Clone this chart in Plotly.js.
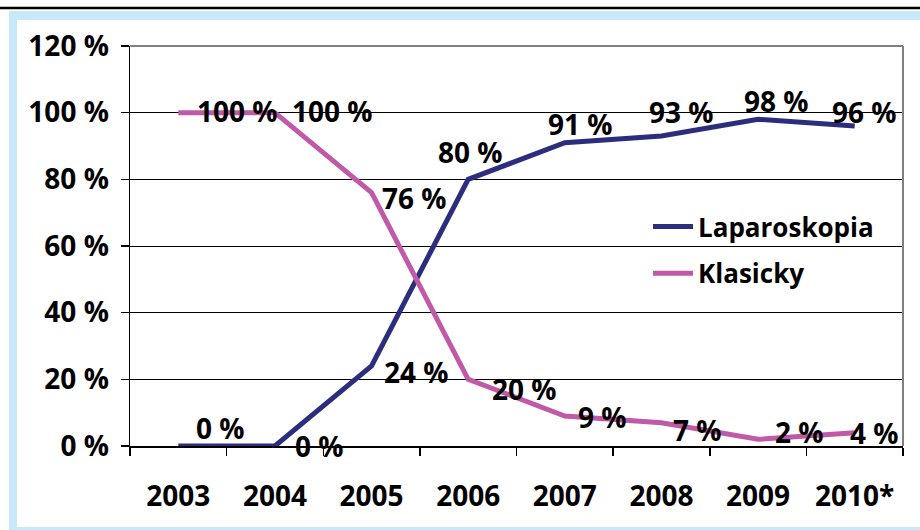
<!DOCTYPE html>
<html>
<head>
<meta charset="utf-8">
<script src="https://cdn.plot.ly/plotly-3.0.1.min.js"></script>
<style>html,body{margin:0;padding:0;background:#fff;}#chart{width:920px;height:530px;}</style>
</head>
<body>
<div id="chart"></div>
<script>
// ---- data ----
const years = ['2003', '2004', '2005', '2006', '2007', '2008', '2009', '2010*'];
const laparoskopia = [0, 0, 24, 80, 91, 93, 98, 96];
const klasicky = [100, 100, 76, 20, 9, 7, 2, 4];
const seriesNames = ['Laparoskopia', 'Klasicky'];
const yTicks = [0, 20, 40, 60, 80, 100, 120];

// ---- label offsets (pixels, styling only) ----
const lapShift = [[42, 18], [45, 0], [45, -6], [2, 27], [16, 19], [20, 24], [18, 18], [10, 14]];
const klaShift = [[59, 2], [58, 2], [43, -5], [56, -10], [38, -1], [36, -7], [41, 7], [20, 0]];

const FONT = 'Open Sans, Noto Sans, sans-serif';
const navy = '#2c2e7d';
const pink = '#c05aa8';
const lightBlue = '#c8e9f7';

// layout geometry in pixels
const L = 130, R = 17, T = 46, B = 84, W = 920, H = 530;
const pw = W - L - R, ph = H - T - B;
const fx = p => (p - L) / pw;
const fy = p => (H - B - p) / ph;

const traces = [
  {x: years, y: laparoskopia, name: seriesNames[0], type: 'scatter', mode: 'lines',
   line: {color: navy, width: 5}, legendgroup: 'a', cliponaxis: false, hoverinfo: 'skip'},
  {x: years, y: klasicky, name: seriesNames[1], type: 'scatter', mode: 'lines',
   line: {color: pink, width: 5}, legendgroup: 'b', cliponaxis: false, hoverinfo: 'skip'}
];

const annFont = {family: FONT, size: 28, color: '#000', weight: 'bold'};
const annotations = [];
[[laparoskopia, lapShift], [klasicky, klaShift]].forEach(([vals, sh]) => {
  vals.forEach((v, i) => {
    // category axis: annotation x is the category's serial index
    annotations.push({x: years.indexOf(years[i]), y: v, xref: 'x', yref: 'y', text: v + ' %',
      showarrow: false, xanchor: 'center', yanchor: 'middle',
      xshift: sh[i][0], yshift: sh[i][1], font: annFont});
  });
});

const shapes = [
  {type: 'rect', xref: 'paper', yref: 'paper', x0: fx(9), x1: fx(925), y0: fy(11), y1: fy(535),
   fillcolor: lightBlue, line: {width: 0}, layer: 'below'},
  {type: 'rect', xref: 'paper', yref: 'paper', x0: fx(17), x1: fx(925), y0: fy(20), y1: fy(527),
   fillcolor: '#ffffff', line: {width: 0}, layer: 'below'},
  {type: 'line', xref: 'paper', yref: 'paper', x0: fx(0), x1: fx(920), y0: fy(8), y1: fy(8),
   line: {color: '#000', width: 2.5}, layer: 'below'},
  {type: 'line', xref: 'paper', yref: 'paper', x0: 0, x1: 1, y0: 1, y1: 1,
   line: {color: '#808080', width: 2}, layer: 'above'},
  {type: 'line', xref: 'paper', yref: 'paper', x0: 1, x1: 1, y0: 0, y1: 1,
   line: {color: '#808080', width: 2}, layer: 'above'}
];

const tickFont = {family: FONT, size: 28, color: '#000', weight: 'bold'};

const layout = {
  width: W, height: H,
  margin: {l: L, r: R, t: T, b: B, pad: 0},
  paper_bgcolor: '#ffffff',
  plot_bgcolor: 'rgba(0,0,0,0)',
  showlegend: true,
  legend: {x: fx(648), y: fy(203), xanchor: 'left', yanchor: 'top',
    bgcolor: 'rgba(0,0,0,0)', borderwidth: 0, traceorder: 'grouped', tracegroupgap: 10,
    font: {family: FONT, size: 26, color: '#000', weight: 'bold'}, itemwidth: 40},
  xaxis: {type: 'category', categoryorder: 'array', categoryarray: years,
    range: [-0.5, years.length - 0.5], tickson: 'boundaries',
    showline: true, linecolor: '#000', linewidth: 1.5,
    ticks: 'outside', ticklen: 8, tickcolor: '#000', tickwidth: 1.5,
    showgrid: false, zeroline: false, tickfont: tickFont, ticklabelstandoff: 25, fixedrange: true},
  yaxis: {range: [0, 120], tickvals: yTicks, ticktext: yTicks.map(v => v + ' %'),
    showline: true, linecolor: '#000', linewidth: 1.5,
    ticks: 'outside', ticklen: 8, tickcolor: '#000', tickwidth: 1.5,
    showgrid: true, gridcolor: '#000', gridwidth: 1, zeroline: false,
    tickfont: tickFont, ticklabelstandoff: 6, fixedrange: true},
  annotations: annotations,
  shapes: shapes
};

Plotly.newPlot('chart', traces, layout, {staticPlot: true, displayModeBar: false});
</script>
</body>
</html>
